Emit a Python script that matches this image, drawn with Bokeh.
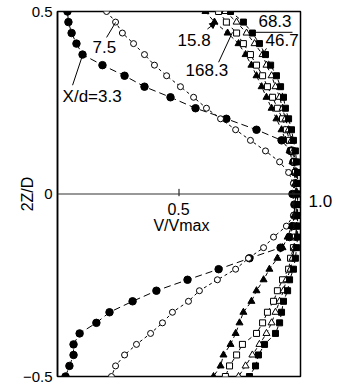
import math
from bokeh.plotting import figure
from bokeh.models import Label, Span, FixedTicker, Arrow, NormalHead, LinearAxis
from bokeh.embed import file_html
from bokeh.resources import INLINE

# 2Z/D positions of the traverse (top to bottom)
Z = [0.5, 0.471, 0.441, 0.412, 0.382, 0.353, 0.324, 0.294, 0.265, 0.235, 0.206,
     0.176, 0.147, 0.118, 0.088, 0.059, 0.029, 0.0, -0.029, -0.059, -0.088,
     -0.118, -0.147, -0.176, -0.206, -0.235, -0.265, -0.294, -0.324, -0.353,
     -0.382, -0.412, -0.441, -0.471, -0.5]

# V/Vmax for each X/d
V_3_3 = [0.041, 0.045, 0.058, 0.078, 0.103, 0.185, 0.276, 0.358, 0.465, 0.568, 0.695,
         0.819, 0.922, 0.959, 0.971, 0.979, 0.975, 0.967, 0.975, 0.975, 0.967,
         0.955, 0.918, 0.790, 0.663, 0.535, 0.407, 0.309, 0.214, 0.160, 0.091,
         0.066, 0.066, 0.049, 0.033]
V_7_5 = [0.202, 0.239, 0.267, 0.313, 0.358, 0.399, 0.449, 0.506, 0.560, 0.613, 0.671,
         0.733, 0.794, 0.856, 0.914, 0.951, 0.971, 0.979, 0.979, 0.971, 0.942,
         0.889, 0.848, 0.786, 0.733, 0.658, 0.584, 0.539, 0.473, 0.432, 0.383,
         0.325, 0.276, 0.239, 0.222]
V_15_8 = [0.609, 0.646, 0.700, 0.745, 0.774, 0.798, 0.819, 0.840, 0.860, 0.881, 0.901,
          0.922, 0.938, 0.955, 0.967, 0.975, 0.979, 0.979, 0.979, 0.975, 0.963,
          0.947, 0.926, 0.905, 0.872, 0.848, 0.819, 0.798, 0.765, 0.749, 0.733,
          0.712, 0.683, 0.671, 0.642]
V_168_3 = [0.663, 0.695, 0.737, 0.765, 0.794, 0.819, 0.844, 0.864, 0.885, 0.905, 0.926,
           0.942, 0.955, 0.967, 0.975, 0.979, 0.984, 0.984, 0.984, 0.984, 0.984,
           0.979, 0.971, 0.959, 0.951, 0.926, 0.905, 0.889, 0.864, 0.844, 0.819,
           0.761, 0.737, 0.708, 0.691]
V_46_7 = [0.691, 0.737, 0.778, 0.811, 0.844, 0.860, 0.881, 0.897, 0.914, 0.926, 0.938,
          0.951, 0.963, 0.971, 0.979, 0.984, 0.984, 0.988, 0.988, 0.988, 0.984,
          0.984, 0.975, 0.967, 0.959, 0.942, 0.930, 0.914, 0.897, 0.881, 0.860,
          0.831, 0.802, 0.774, 0.745]
V_68_3 = [0.712, 0.765, 0.802, 0.831, 0.856, 0.877, 0.901, 0.918, 0.930, 0.938, 0.951,
          0.963, 0.971, 0.979, 0.984, 0.988, 0.988, 0.988, 0.988, 0.988, 0.988,
          0.988, 0.984, 0.979, 0.971, 0.955, 0.947, 0.930, 0.922, 0.914, 0.897,
          0.852, 0.827, 0.815, 0.790]

Y_TICKS = [-0.5, 0.0, 0.5]
Y_TICK_LABELS = {-0.5: "\u22120.5", 0.0: "0", 0.5: "0.5"}
X_TICKS = [0.5]
X_END_TICK = [-0.019]
X_END_LABEL = {-0.019: "1.0"}

FONT = "Liberation Sans"

p = figure(width=340, height=388, x_range=(0, 1), y_range=(-0.5, 0.5),
           output_backend="svg", toolbar_location=None, x_axis_location=None,
           min_border_left=57, min_border_right=40, min_border_top=11,
           min_border_bottom=12, background_fill_color="white")
p.xgrid.visible = False
p.ygrid.visible = False
p.outline_line_color = "black"
p.outline_line_width = 1.5

ax = p.yaxis[0]
ax.ticker = FixedTicker(ticks=Y_TICKS)
ax.major_label_overrides = Y_TICK_LABELS
ax.major_label_text_font = FONT
ax.major_label_text_font_size = "15px"
ax.major_label_text_color = "black"
ax.major_tick_out = 0
ax.major_tick_in = 0
ax.minor_tick_out = 0
ax.minor_tick_in = 0
ax.axis_line_width = 1.5
ax.major_label_standoff = 5
ax.axis_label = "2Z/D"
ax.axis_label_text_font = FONT
ax.axis_label_text_font_size = "16px"
ax.axis_label_text_font_style = "normal"
ax.axis_label_text_color = "black"
ax.axis_label_standoff = -16

# right-hand "1.0" marker at the level of the middle axis
rax = LinearAxis(ticker=FixedTicker(ticks=X_END_TICK), major_label_overrides=X_END_LABEL,
                 major_label_text_font=FONT, major_label_text_font_size="17px",
                 major_label_text_color="black", axis_line_color=None,
                 major_tick_out=0, major_tick_in=0, minor_tick_out=0, minor_tick_in=0,
                 major_label_standoff=8)
p.add_layout(rax, "right")

# middle x axis
p.add_layout(Span(location=0, dimension="width", line_color="#333333", line_width=1.2))
for t in X_TICKS:
    p.segment(x0=[t], y0=[-0.006], x1=[t], y1=[0.014], line_color="black", line_width=1)

series = [
    (V_3_3, "circle", "black", 7.5, "7 4"),
    (V_7_5, "circle", "white", 6, "3 3"),
    (V_15_8, "triangle", "black", 7, "4 3"),
    (V_168_3, "square", "white", 6, "4 3"),
    (V_46_7, "triangle", "white", 7, "4 3"),
    (V_68_3, "square", "black", 6, "4 3"),
]
for vals, mk, fill, sz, dash in series:
    p.line(vals, Z, line_color="black", line_width=1, line_dash=dash)
for vals, mk, fill, sz, dash in series:
    p.scatter(vals, Z, marker=mk, size=sz, fill_color=fill, line_color="black",
              line_width=1)

def lab(x, y, text, size="17px", align="left", baseline="middle"):
    p.add_layout(Label(x=x, y=y, text=text, text_font=FONT, text_font_size=size,
                       text_align=align, text_baseline=baseline,
                       text_color="black"))

lab(0.021, 0.268, "X/d=3.3")
lab(0.144, 0.404, "7.5")
lab(0.494, 0.421, "15.8")
lab(0.527, 0.339, "168.3")
lab(0.827, 0.473, "68.3")
lab(0.856, 0.421, "46.7")
lab(0.498, -0.041, "0.5", size="16px", align="center")
lab(0.51, -0.086, "V/Vmax", size="16px", align="center")

# leader lines
p.segment(x0=[0.062, 0.202, 0.663, 0.80, 0.860], y0=[0.298, 0.429, 0.361, 0.443, 0.399],
          x1=[0.103, 0.239, 0.720, 0.967, 0.846], y1=[0.380, 0.470, 0.443, 0.443, 0.385],
          line_color="black", line_width=1)
p.add_layout(Arrow(end=NormalHead(size=6, fill_color="black", line_color="black"),
                   x_start=0.617, y_start=0.452, x_end=0.652, y_end=0.470,
                   line_color="black", line_width=1))

open("out.html", "w").write(file_html(p, INLINE))
